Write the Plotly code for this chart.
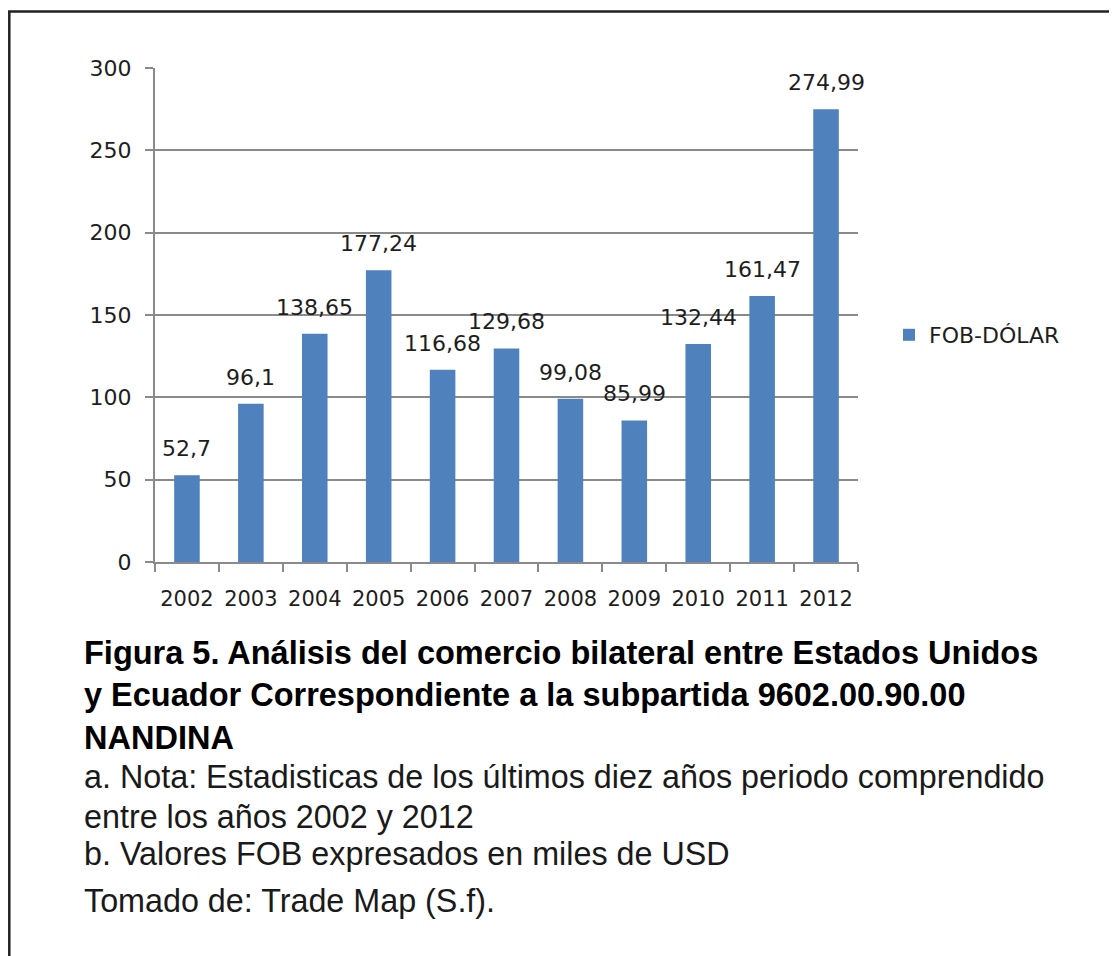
import plotly.graph_objects as go

years = ["2002", "2003", "2004", "2005", "2006", "2007", "2008", "2009", "2010", "2011", "2012"]
fob_values = [52.7, 96.1, 138.65, 177.24, 116.68, 129.68, 99.08, 85.99, 132.44, 161.47, 274.99]
series_name = "FOB-DÓLAR"
y_ticks = [0, 50, 100, 150, 200, 250, 300]

caption_bold = [
    "Figura 5. Análisis del comercio bilateral entre Estados Unidos",
    "y Ecuador Correspondiente a la subpartida 9602.00.90.00",
    "NANDINA",
]
caption_notes = [
    "a. Nota: Estadisticas de los últimos diez años periodo comprendido",
    "entre los años 2002 y 2012",
    "b. Valores FOB expresados en miles de USD",
    "Tomado de: Trade Map (S.f).",
]

# the page body adds an 8px margin; work in reference-image pixels and shift
OFF = 8
W, H = 1117 - OFF, 956 - OFF
L, R, T, B = 155 - OFF, 858 - OFF, 68 - OFF, 562 - OFF


def px(x):
    return (x - OFF - L) / (R - L)


def py(y):
    return (B - (y - OFF)) / (B - T)


labels = [str(v).replace(".", ",") for v in fob_values]

CHART_FONT = "DejaVu Sans"
TXT = "#1e1e1e"
GRID = "#8a8a8a"

fig = go.Figure()
fig.add_trace(go.Bar(
    x=years, y=fob_values, name=series_name,
    marker=dict(color="#4f81bd", line=dict(width=0)),
    showlegend=True,
))

for i, (v, lab) in enumerate(zip(fob_values, labels)):
    fig.add_annotation(x=i, y=v, xref="x", yref="y", text=lab, showarrow=False,
                       xanchor="center", yanchor="bottom", yshift=12,
                       font=dict(family=CHART_FONT, size=22, color=TXT))

fig.update_layout(
    width=W, height=H,
    margin=dict(l=L, r=W - R, t=T, b=H - B, pad=0),
    paper_bgcolor="white", plot_bgcolor="white",
    bargap=0.6,
    font=dict(family=CHART_FONT, size=22, color=TXT),
    showlegend=True,
    legend=dict(x=px(889), y=py(335), xanchor="left", yanchor="middle",
                font=dict(family=CHART_FONT, size=22, color=TXT),
                bgcolor="rgba(0,0,0,0)", itemwidth=30),
    xaxis=dict(
        type="category", categoryarray=years, categoryorder="array",
        range=[-0.5, len(years) - 0.5], autorange=False,
        showline=True, linecolor=GRID, linewidth=2,
        ticks="outside", tickson="boundaries", ticklen=8, tickwidth=2, tickcolor=GRID,
        showgrid=False, tickfont=dict(family=CHART_FONT, size=21, color=TXT),
        ticklabelstandoff=17, tickangle=0,
    ),
    yaxis=dict(
        range=[0, 300], tickvals=y_ticks, showline=True, linecolor=GRID, linewidth=2,
        ticks="outside", ticklen=8, tickwidth=2, tickcolor=GRID,
        showgrid=True, gridcolor=GRID, gridwidth=2, zeroline=False,
        tickfont=dict(family=CHART_FONT, size=22, color=TXT),
        ticklabelstandoff=9,
    ),
)

# caption lines
bold_centers = [653, 695, 738]
note_centers = [777, 817, 854, 901]
for txt, yc in zip(caption_bold, bold_centers):
    fig.add_annotation(x=px(82), y=py(yc), xref="paper", yref="paper", text="<b>" + txt + "</b>",
                       showarrow=False, xanchor="left", yanchor="middle",
                       font=dict(family="Liberation Sans", size=32.5, color="#000000"))
for txt, yc in zip(caption_notes, note_centers):
    fig.add_annotation(x=px(82), y=py(yc), xref="paper", yref="paper", text=txt,
                       showarrow=False, xanchor="left", yanchor="middle",
                       font=dict(family="Liberation Sans", size=32.3, color="#1a1a1a"))

# outer frame (left + top edges visible); left edge kept just inside the figure
fig.add_shape(type="rect", xref="paper", yref="paper",
              x0=px(9.3), x1=px(1140), y0=py(11.5), y1=py(990),
              line=dict(color="#222222", width=2.5), fillcolor="rgba(0,0,0,0)", layer="above")

fig.write_html("out.html")
